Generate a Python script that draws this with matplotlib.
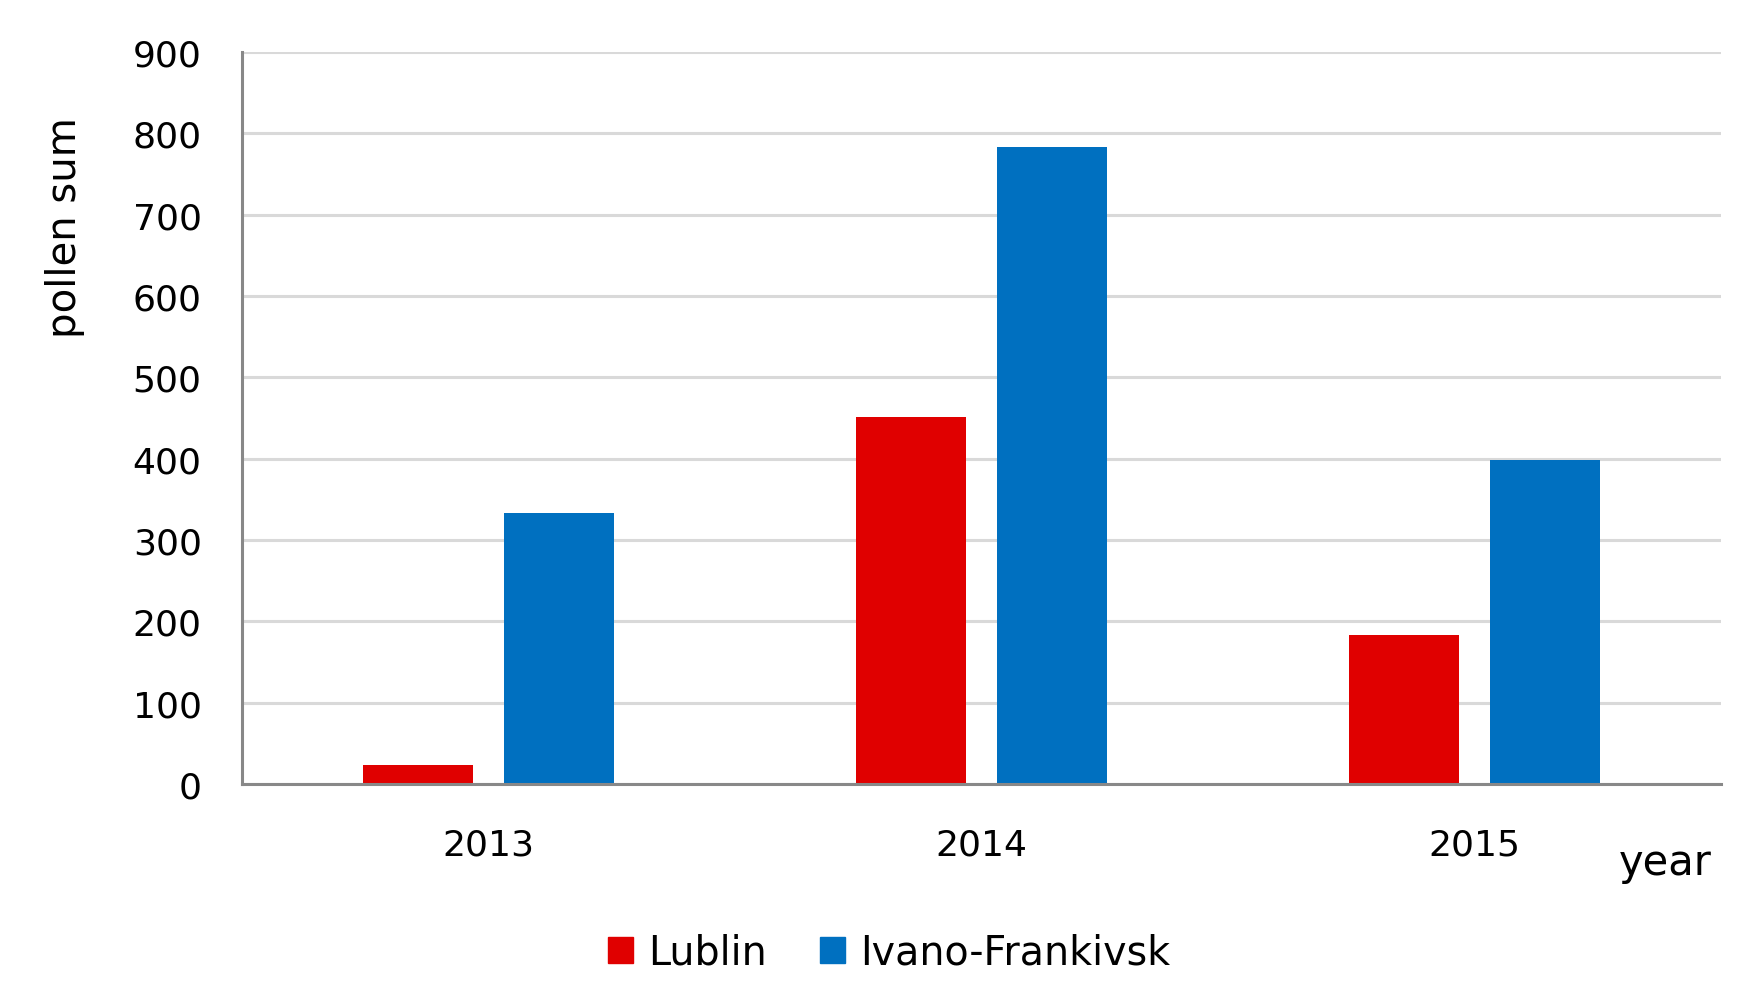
import matplotlib
matplotlib.use("Agg")
import matplotlib.pyplot as plt
import numpy as np
from matplotlib.patches import Patch

years = ["2013", "2014", "2015"]
lublin = [24, 451, 183]
ivano = [333, 783, 398]
series_names = ["Lublin", "Ivano-Frankivsk"]
colors = ["#E00000", "#0070C0"]
yticks = [0, 100, 200, 300, 400, 500, 600, 700, 800, 900]

plt.rcParams['font.family'] = ['DejaVu Sans']
fs = 26
fs_leg = 28.5

fig = plt.figure(figsize=(17.64, 10.03), dpi=100)
ax = fig.add_axes([0.1372, 0.2173, 0.8384, 0.7298])

x = np.arange(len(years))
w = 0.222
off = 0.143
ax.bar(x - off, lublin, width=w, color=colors[0], zorder=3)
ax.bar(x + off, ivano, width=w, color=colors[1], zorder=3)

ax.set_xlim(-0.5, 2.5)
ax.set_ylim(0, 900)
ax.set_yticks(yticks)
ax.set_yticklabels([str(v) for v in yticks], fontsize=fs)
ax.set_xticks(x)
ax.set_xticklabels(years, fontsize=fs)
ax.tick_params(axis='y', length=0, pad=29)
ax.tick_params(axis='x', length=0, pad=31)

ax.grid(axis='y', color='#d9d9d9', linewidth=2.2, zorder=0)
ax.set_axisbelow(True)
for s in ['top', 'right']:
    ax.spines[s].set_visible(False)
for s in ['left', 'bottom']:
    ax.spines[s].set_color('#888888')
    ax.spines[s].set_linewidth(2.2)
    ax.spines[s].set_zorder(4)

fig.text(0.037, 0.773, "pollen sum", rotation=90, fontsize=29,
         ha='center', va='center')
fig.text(0.9705, 0.14, "year", fontsize=30, ha='right', va='center')

handles = [Patch(color=c, label=n) for c, n in zip(colors, series_names)]
fig.legend(handles=handles, loc='center', bbox_to_anchor=(0.504, 0.049),
           ncol=2, frameon=False, fontsize=fs_leg, handlelength=0.63,
           handleheight=0.66, handletextpad=0.37, columnspacing=1.36)

fig.savefig("out.png", dpi=100, facecolor='white')
